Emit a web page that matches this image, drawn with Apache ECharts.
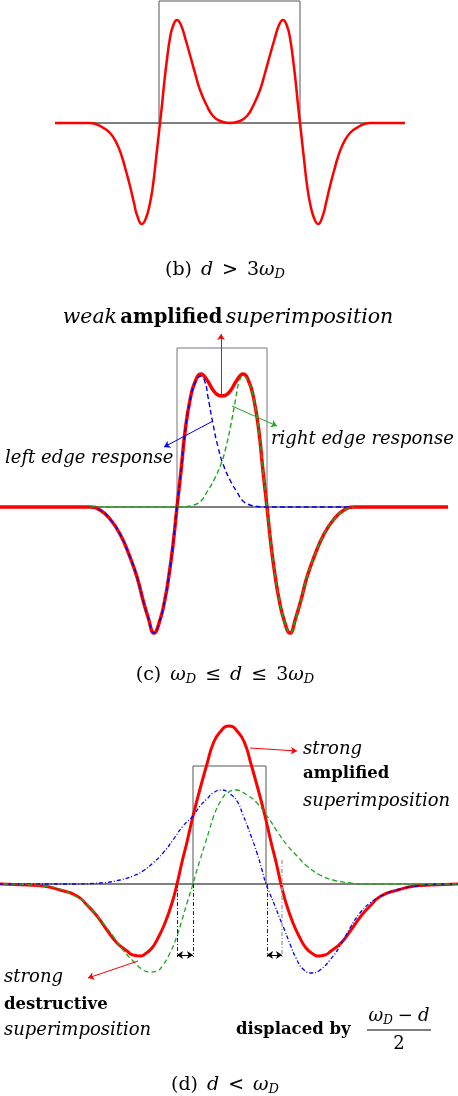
<!DOCTYPE html>
<html>
<head>
<meta charset="utf-8">
<script src="https://cdn.jsdelivr.net/npm/echarts@6/dist/echarts.min.js"></script>
<style>
  html, body { margin: 0; background: #fff; }
  #main { width: 458px; height: 1096px; }
</style>
</head>
<body>
<div id="main"></div>
<script>
// panel (b): d > 3 wD, sum only
const bBaseline = [[55, 0], [405, 0]];
const bBox = [[159, 0], [159, 122], [300, 122], [300, 0]];
const bSum = [[55,0],[90,0],[100,-3],[110,-10],[117,-21],[122,-34],[126,-48],[130,-63],[134,-80],[137,-92],[142,-101],[146,-95],[150,-80],[153,-62],[156,-36],[158,-18],[160,0],[162,18],[164,38],[167,64],[170,85],[173,97],[177,103],[181,98],[186,82],[190,68],[195,50],[200,33],[207,17],[213,7],[220,2],[230,0],[240,2],[247,7],[253,17],[260,33],[265,50],[270,68],[274,82],[279,98],[283,103],[287,97],[290,85],[293,64],[296,38],[298,18],[300,0],[302,-18],[304,-36],[307,-62],[310,-80],[314,-95],[318,-101],[323,-92],[326,-80],[330,-63],[334,-48],[338,-34],[343,-21],[350,-10],[360,-3],[370,0],[405,0]];

// panel (c): wD <= d <= 3 wD
const cBaseline = [[0, 0], [448, 0]];
const cBox = [[177, 0], [177, 159], [267, 159], [267, 0]];
const cSum = [[0,0],[90,0],[100,-3],[110,-12],[120,-27],[130,-50],[137,-70],[143,-93],[148,-110],[154,-126],[160,-113],[165,-92],[169,-68],[173,-38],[177,0],[181,36],[185,75],[190,107],[195,125],[201,133],[207,127],[213,117],[218,112],[222,111],[226,112],[231,117],[237,127],[243,133],[249,125],[254,107],[259,75],[263,36],[267,0],[271,-38],[275,-68],[279,-92],[284,-113],[290,-126],[296,-110],[301,-93],[307,-70],[314,-50],[324,-27],[334,-12],[344,-3],[354,0],[448,0]];
const cLeft = [[90,0],[100,-3],[110,-12],[120,-27],[130,-50],[137,-70],[143,-93],[148,-110],[154,-126],[160,-113],[165,-92],[169,-68],[173,-38],[177,0],[181,36],[185,75],[190,106],[195,124],[201,131],[205,125],[208,110],[213,83],[218,60],[223,43],[230,27],[237,15],[243,6],[250,2],[258,0.5],[263,0],[352,0]];
const cRight = [[90,0],[181,0],[186,0.5],[194,2],[201,6],[207,15],[214,27],[221,43],[226,60],[231,83],[236,110],[239,125],[243,131],[249,124],[254,106],[259,75],[263,36],[267,0],[271,-38],[275,-68],[279,-92],[284,-113],[290,-126],[296,-110],[301,-93],[307,-70],[314,-50],[324,-27],[334,-12],[344,-3],[354,0]];

// panel (d): d < wD
const dBaseline = [[3, 0], [458, 0]];
const dBox = [[193, 0], [193, 118], [266, 118], [266, 0]];
const dSum = [[0,0],[27,-1],[43,-2],[60,-6],[77,-12],[87,-21],[97,-32],[107,-46],[117,-59],[127,-67],[133,-71],[141,-72],[145,-70],[152,-64],[158,-54],[165,-39],[172,-19],[177,0],[182,22],[187,42],[193,68],[200,95],[207,120],[213,140],[220,152],[229,158],[238,152],[245,140],[251,120],[258,95],[265,68],[271,42],[276,22],[281,0],[286,-19],[293,-39],[300,-54],[306,-64],[313,-70],[318,-72],[325,-71],[331,-67],[341,-59],[351,-46],[361,-32],[371,-21],[381,-12],[398,-6],[415,-2],[431,-1],[458,0]];
const dLeft = [[0,0],[67,0],[100,1],[120,4],[133,8],[143,13],[153,21],[163,31],[173,44],[183,58],[193,68],[200,78],[207,85],[213,91],[222,94],[230,90],[237,83],[243,69],[250,51],[257,31],[262,14],[266,0],[270,-10],[275,-22],[280,-35],[285,-47],[290,-60],[296,-74],[303,-85],[312,-89],[320,-86],[330,-76],[340,-62],[350,-44],[360,-29],[370,-19],[383,-11],[400,-5],[417,-2],[433,-0.3],[458,0]];
const dRight = [[3,0],[27,-0.3],[43,-2],[60,-5],[73,-11],[83,-17],[93,-27],[103,-39],[113,-52],[123,-66],[133,-77],[143,-86],[150,-88],[157,-87],[163,-81],[170,-69],[177,-52],[182,-36],[187,-19],[193,0],[196,11],[200,24],[205,40],[210,56],[213,66],[217,76],[222,85],[227,91],[236,94],[247,89],[257,81],[267,68],[277,53],[287,39],[297,28],[307,18],[320,9],[333,4],[350,1],[367,0],[458,0]];

const RED = '#ff0000', BLUE = '#0000ee', GREEN = '#1fa81f';
const SERIF = 'DejaVu Serif';

const myChart = echarts.init(document.getElementById('main'));

function line(data, g, color, width, type, z) {
  return {
    type: 'line', xAxisIndex: g, yAxisIndex: g, data: data,
    symbol: 'none', smooth: 0.5, silent: true, z: z,
    lineStyle: { color: color, width: width, type: type || 'solid' }
  };
}
function plain(data, g, color, width, z, marks) {
  const s = {
    type: 'line', xAxisIndex: g, yAxisIndex: g, data: data,
    symbol: 'none', silent: true, z: z,
    lineStyle: { color: color, width: width }
  };
  if (marks) {
    s.markLine = {
      silent: true, symbolSize: 6, label: { show: false },
      data: marks
    };
  }
  return s;
}
function arrow(a, b, color, head, type, width) {
  return [
    { coord: a, symbol: head ? head[0] : 'none', lineStyle: { color: color, width: width || 1, type: type || 'solid' } },
    { coord: b, symbol: head ? head[1] : 'arrow' }
  ];
}

const dashDot = [4, 2, 1, 2];
const marksC = [
  arrow([221, 111], [221, 173], RED),
  arrow([213, 86], [164, 60], BLUE),
  arrow([232, 101], [277, 81], GREEN)
];
const marksD = [
  arrow([250, 136], [297, 133], RED),
  arrow([138, -77], [88, -94], RED),
  arrow([177, 0], [177, -73], '#222', ['none', 'none'], dashDot),
  arrow([193, 0], [193, -73], '#222', ['none', 'none'], dashDot),
  arrow([267, 0], [267, -73], '#222', ['none', 'none'], dashDot),
  arrow([282, 24], [282, -73], '#aaa', ['none', 'none'], dashDot, 1.5),
  arrow([177, -71], [193, -71], '#000', ['arrow', 'arrow']),
  arrow([267, -71], [282, -71], '#000', ['arrow', 'arrow']),
  arrow([184, -81], [220, -126], '#000'),
  arrow([273, -79], [308, -126], '#000')
];

function richSet(size, bold, gap) {
  return {
    r: { fontFamily: SERIF, fontSize: size, color: '#000' },
    lab: { fontFamily: SERIF, fontSize: size, color: '#000', padding: [0, gap, 0, 0] },
    rel: { fontFamily: SERIF, fontSize: size, color: '#000', padding: [0, gap, 0, gap] },
    i: { fontFamily: SERIF, fontSize: size, fontStyle: 'italic', color: '#000' },
    b: { fontFamily: SERIF, fontSize: bold, fontWeight: 'bold', color: '#000' },
    s: { fontFamily: SERIF, fontSize: Math.round(size * 0.68), fontStyle: 'italic', color: '#000', padding: [Math.round(size * 0.55), 0, 0, 0] }
  };
}
const richN = richSet(18, 16.5, 5);
const richC = richSet(19, 16.5, 9);
const richL = richSet(20.5, 19.5, 5);
function txt(x, y, text, align, rich) {
  return {
    type: 'text', x: x, y: y, silent: true,
    style: { text: text, rich: rich || richN, align: align || 'left', verticalAlign: 'middle' }
  };
}

const xAxes = [0, 1, 2].map(function (g) {
  return { type: 'value', gridIndex: g, min: 0, max: 458, show: false };
});
const yAxes = [
  { type: 'value', gridIndex: 0, min: -117, max: 123, show: false },
  { type: 'value', gridIndex: 1, min: -173, max: 207, show: false },
  { type: 'value', gridIndex: 2, min: -116, max: 184, show: false }
];

const option = {
  animation: false,
  backgroundColor: '#fff',
  grid: [
    { left: 0, top: 0, width: 458, height: 240 },
    { left: 0, top: 300, width: 458, height: 380 },
    { left: 0, top: 700, width: 458, height: 300 }
  ],
  xAxis: xAxes,
  yAxis: yAxes,
  series: [
    plain(bBaseline, 0, '#000', 1, 1),
    plain(bBox, 0, '#555', 1, 1),
    line(bSum, 0, RED, 2.5, 'solid', 3),

    plain(cBaseline, 1, '#000', 1, 1),
    plain(cBox, 1, '#777', 1, 1, marksC),
    line(cSum, 1, RED, 3.5, 'solid', 3),
    line(cLeft, 1, BLUE, 1.4, [5, 3], 4),
    line(cRight, 1, GREEN, 1.4, [5, 3], 4),

    plain(dBaseline, 2, '#000', 1, 1),
    plain(dBox, 2, '#555', 1, 1, marksD),
    line(dSum, 2, RED, 3, 'solid', 3),
    line(dLeft, 2, BLUE, 1.3, dashDot, 4),
    line(dRight, 2, GREEN, 1.3, [5, 3], 4)
  ],
  graphic: [
    txt(225, 270, '{lab|(b)}{i|d}{rel|>}{r|3}{i|ω}{s|D}', 'center', richC),
    txt(228, 318, '{i|weak} {b|amplified} {i|superimposition}', 'center', richL),
    txt(5, 458, '{i|left edge response}'),
    txt(271, 439, '{i|right edge response}'),
    txt(225, 675, '{lab|(c)}{i|ω}{s|D}{rel|≤}{i|d}{rel|≤}{r|3}{i|ω}{s|D}', 'center', richC),
    txt(303, 749, '{i|strong}'),
    txt(303, 774, '{b|amplified}'),
    txt(303, 801, '{i|superimposition}'),
    txt(4, 977, '{i|strong}'),
    txt(4, 1005, '{b|destructive}'),
    txt(4, 1030, '{i|superimposition}'),
    txt(236, 1030, '{b|displaced by}'),
    txt(399, 1016, '{i|ω}{s|D}{rel|−}{i|d}', 'center'),
    {
      type: 'line', silent: true,
      shape: { x1: 367, y1: 1030, x2: 431, y2: 1030 },
      style: { stroke: '#000', lineWidth: 1 }
    },
    txt(399, 1044, '{r|2}', 'center'),
    txt(225, 1085, '{lab|(d)}{i|d}{rel|<}{i|ω}{s|D}', 'center', richC)
  ]
};

myChart.setOption(option);
</script>
</body>
</html>
